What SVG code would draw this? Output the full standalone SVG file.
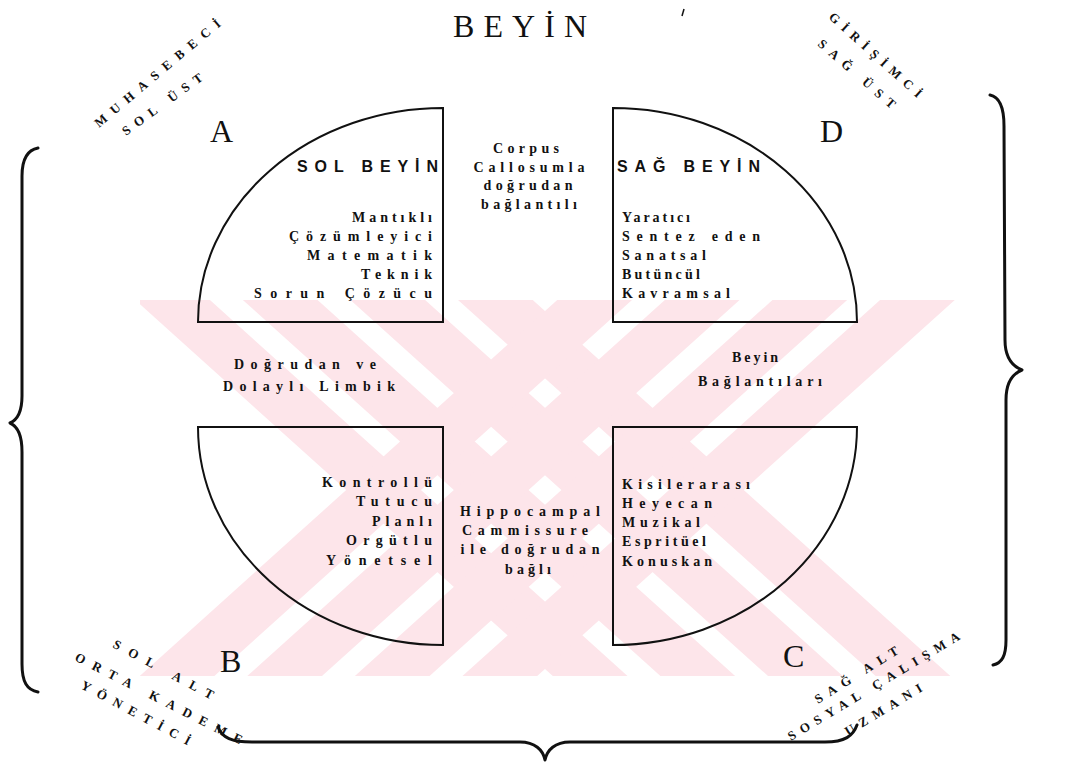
<svg xmlns="http://www.w3.org/2000/svg" width="1089" height="770" viewBox="0 0 1089 770">
<defs>
<style>
.title{font-family:"Liberation Serif",serif;font-size:32px;fill:#111}
.big{font-family:"Liberation Serif",serif;font-size:32px;fill:#111}
.hd{font-family:"Liberation Sans",sans-serif;font-weight:bold;font-size:16px;fill:#111}
.t{font-family:"Liberation Serif",serif;font-weight:bold;font-size:14px;fill:#111}
.c{font-family:"Liberation Serif",serif;font-weight:bold;font-size:13px;fill:#111}
.q{fill:none;stroke:#111;stroke-width:2}
.br{fill:none;stroke:#111;stroke-width:3;stroke-linecap:round;stroke-linejoin:round}
.wm{fill:#fde5ea}
</style>
<clipPath id="wmclip"><rect x="140" y="300" width="890" height="376"/></clipPath>
<g id="arm">
  <rect class="wm" x="-900" y="-133" width="1800" height="50"/>
  <rect class="wm" x="-900" y="-61" width="1800" height="50"/>
  <rect class="wm" x="-900" y="11" width="1800" height="50"/>
  <rect class="wm" x="-900" y="83" width="1800" height="50"/>
</g>
</defs>
<rect width="1089" height="770" fill="#fff"/>

<!-- background stamp: crossed striped bands -->
<g id="stamp" clip-path="url(#wmclip)">
  <use href="#arm" transform="translate(545,490) rotate(42)"/>
  <use href="#arm" transform="translate(545,490) rotate(-42)"/>
</g>

<text class="title" x="453" y="37" textLength="134" lengthAdjust="spacing">BEYİN</text>
<path d="M684,9 L682,16" stroke="#111" stroke-width="1.5" fill="none"/>

<!-- corner captions -->
<g id="cap-a">
  <text class="c" transform="translate(99,128) rotate(-40)" textLength="160" lengthAdjust="spacing">MUHASEBECİ</text>
  <text class="c" transform="translate(126,136) rotate(-36)" textLength="96" lengthAdjust="spacing">SOL ÜST</text>
</g>
<g id="cap-d">
  <text class="c" transform="translate(828,18) rotate(42)" textLength="120" lengthAdjust="spacing">GİRİŞİMCİ</text>
  <text class="c" transform="translate(817,45) rotate(41)" textLength="98" lengthAdjust="spacing">SAĞ ÜST</text>
</g>
<g id="cap-b">
  <text class="c" transform="translate(112,647) rotate(28)" textLength="112" lengthAdjust="spacing">SOL ALT</text>
  <text class="c" transform="translate(74,660) rotate(27)" textLength="186" lengthAdjust="spacing">ORTA KADEME</text>
  <text class="c" transform="translate(80,688) rotate(28)" textLength="122" lengthAdjust="spacing">YÖNETİCİ</text>
</g>
<g id="cap-c">
  <text class="c" transform="translate(818,704) rotate(-32)" textLength="96" lengthAdjust="spacing">SAĞ ALT</text>
  <text class="c" transform="translate(791,741) rotate(-31)" textLength="198" lengthAdjust="spacing">SOSYAL ÇALIŞMA</text>
  <text class="c" transform="translate(848,736) rotate(-31)" textLength="88" lengthAdjust="spacing">UZMANI</text>
</g>

<!-- quadrant A -->
<g id="quad-a">
  <path class="q" d="M443,108 L443,322 L198,322 A245,214 0 0 1 443,108 Z"/>
  <text class="big" x="210" y="142">A</text>
  <text class="hd" x="297" y="172" textLength="141" lengthAdjust="spacing">SOL BEYİN</text>
  <g class="t" text-anchor="end">
    <text x="432" y="222" textLength="80" lengthAdjust="spacing">Mantıklı</text>
    <text x="432" y="241" textLength="143" lengthAdjust="spacing">Çözümleyici</text>
    <text x="432" y="260" textLength="125" lengthAdjust="spacing">Matematik</text>
    <text x="432" y="279" textLength="71" lengthAdjust="spacing">Teknik</text>
    <text x="432" y="298" textLength="178" lengthAdjust="spacing">Sorun Çözücu</text>
  </g>
</g>

<!-- quadrant D -->
<g id="quad-d">
  <path class="q" d="M613,108 L613,322 L857,322 A244,214 0 0 0 613,108 Z"/>
  <text class="big" x="820" y="142">D</text>
  <text class="hd" x="617" y="172" textLength="143" lengthAdjust="spacing">SAĞ BEYİN</text>
  <g class="t">
    <text x="622" y="222" textLength="68" lengthAdjust="spacing">Yaratıcı</text>
    <text x="622" y="241" textLength="138" lengthAdjust="spacing">Sentez eden</text>
    <text x="622" y="260" textLength="84" lengthAdjust="spacing">Sanatsal</text>
    <text x="622" y="279" textLength="78" lengthAdjust="spacing">Butüncül</text>
    <text x="622" y="298" textLength="108" lengthAdjust="spacing">Kavramsal</text>
  </g>
</g>

<!-- quadrant B -->
<g id="quad-b">
  <path class="q" d="M443,427 L198,427 A245,218 0 0 0 443,645 Z"/>
  <text class="big" x="220" y="672">B</text>
  <g class="t" text-anchor="end">
    <text x="432" y="487" textLength="110" lengthAdjust="spacing">Kontrollü</text>
    <text x="432" y="506" textLength="76" lengthAdjust="spacing">Tutucu</text>
    <text x="432" y="526" textLength="60" lengthAdjust="spacing">Planlı</text>
    <text x="432" y="545" textLength="86" lengthAdjust="spacing">Orgütlu</text>
    <text x="432" y="565" textLength="106" lengthAdjust="spacing">Yönetsel</text>
  </g>
</g>

<!-- quadrant C -->
<g id="quad-c">
  <path class="q" d="M613,427 L857,427 A244,218 0 0 1 613,645 Z"/>
  <text class="big" x="783" y="667">C</text>
  <g class="t">
    <text x="622" y="489" textLength="128" lengthAdjust="spacing">Kisilerarası</text>
    <text x="622" y="508" textLength="90" lengthAdjust="spacing">Heyecan</text>
    <text x="622" y="527" textLength="78" lengthAdjust="spacing">Muzikal</text>
    <text x="622" y="546" textLength="84" lengthAdjust="spacing">Espritüel</text>
    <text x="622" y="566" textLength="90" lengthAdjust="spacing">Konuskan</text>
  </g>
</g>

<!-- links between the halves -->
<g id="link-top" class="t" text-anchor="middle">
  <text x="526" y="153" textLength="66" lengthAdjust="spacing">Corpus</text>
  <text x="529" y="172" textLength="111" lengthAdjust="spacing">Callosumla</text>
  <text x="528" y="190" textLength="89" lengthAdjust="spacing">doğrudan</text>
  <text x="529" y="209" textLength="96" lengthAdjust="spacing">bağlantılı</text>
</g>
<g id="link-left" class="t" text-anchor="middle">
  <text x="305" y="369" textLength="142" lengthAdjust="spacing">Doğrudan ve</text>
  <text x="309" y="391" textLength="172" lengthAdjust="spacing">Dolaylı Limbik</text>
</g>
<g id="link-right" class="t" text-anchor="middle">
  <text x="755" y="362" textLength="46" lengthAdjust="spacing">Beyin</text>
  <text x="760" y="386" textLength="124" lengthAdjust="spacing">Bağlantıları</text>
</g>
<g id="link-bottom" class="t" text-anchor="middle">
  <text x="530" y="516" textLength="140" lengthAdjust="spacing">Hippocampal</text>
  <text x="525" y="535" textLength="126" lengthAdjust="spacing">Cammissure</text>
  <text x="530" y="554" textLength="139" lengthAdjust="spacing">ile doğrudan</text>
  <text x="528" y="574" textLength="46" lengthAdjust="spacing">bağlı</text>
</g>

<!-- braces -->
<g id="connectors">
  <path class="br" d="M38,148 C27,150 22,160 22,176 L22,396 C22,413 17,420 10,423 C17,426 22,434 22,452 L22,664 C22,682 27,690 38,692"/>
  <path class="br" d="M990,95 C1000,97 1004,108 1004,126 L1005,340 C1005,357 1012,366 1022,370 C1012,374 1006,383 1006,400 L1006,640 C1006,656 1002,663 993,665"/>
  <path class="br" d="M218,727 C222,738 232,742 252,742 L520,742 C535,742 543,750 545,760 C547,750 555,742 570,742 L825,742 C845,742 853,736 857,725"/>
</g>
</svg>
